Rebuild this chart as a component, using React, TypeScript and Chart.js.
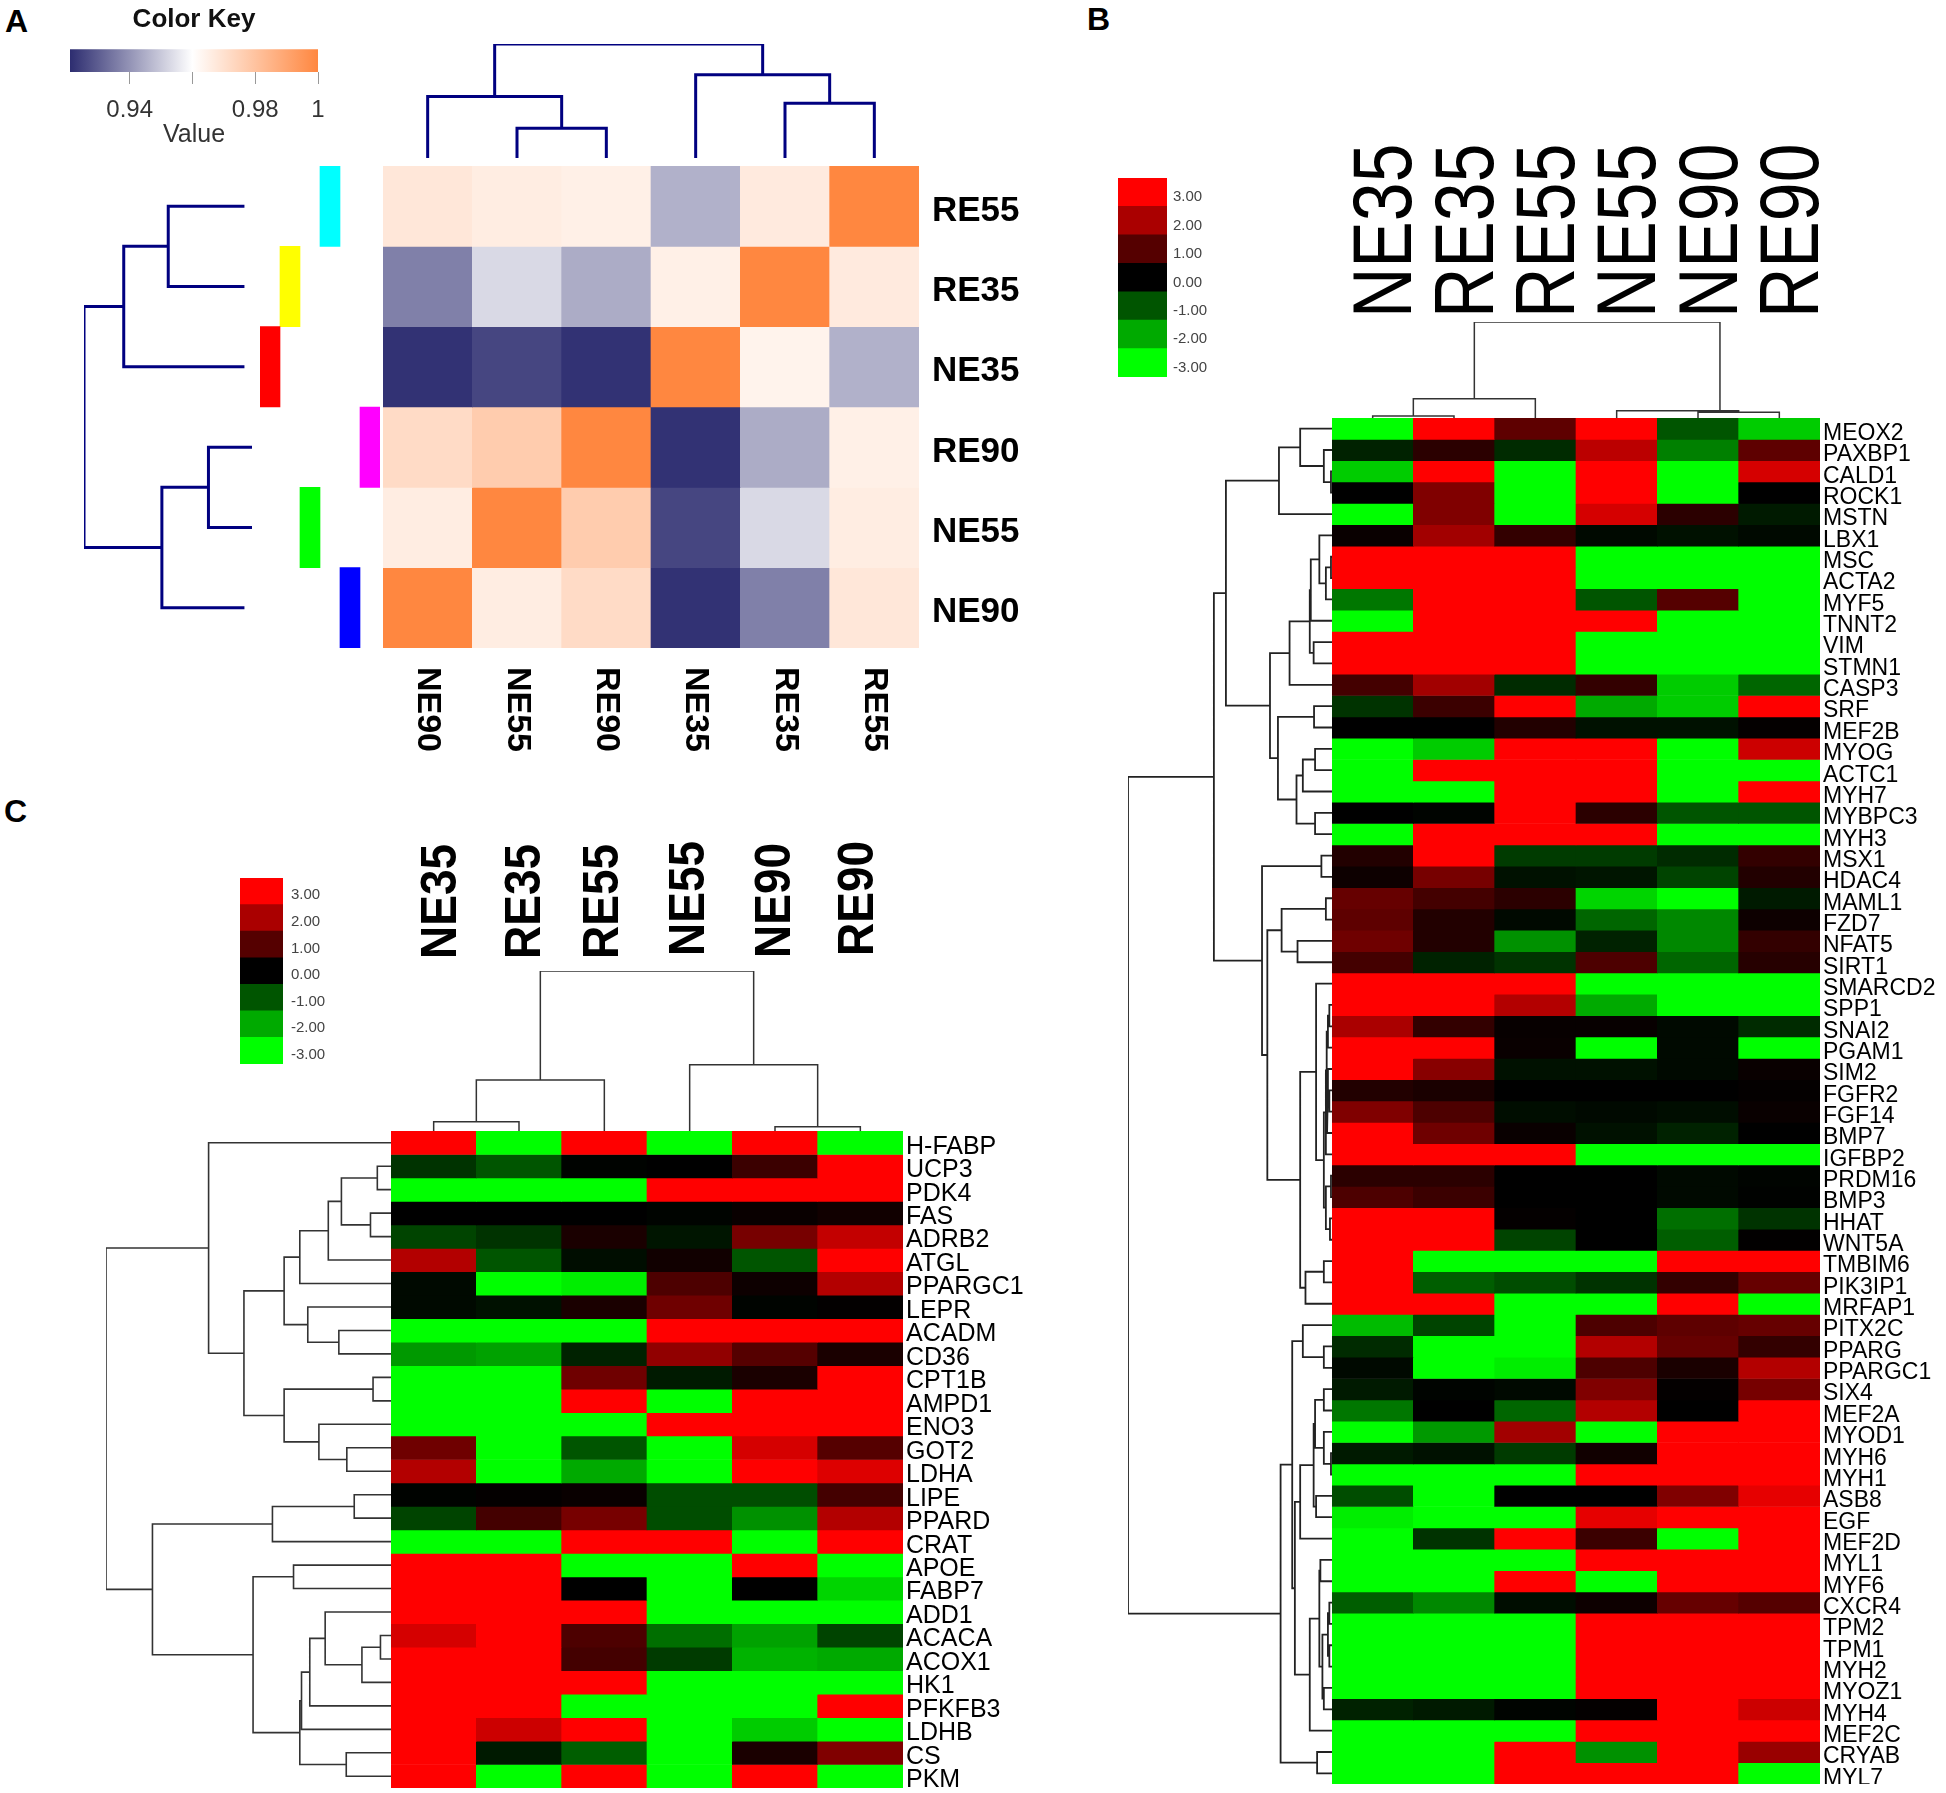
import React, { useEffect, useRef } from "react";
import { Chart, registerables } from "chart.js";

Chart.register(...registerables);

const SANS = '"Liberation Sans", Arial, sans-serif';

/* ---------- Panel A data ---------- */
const aCols = ["NE90", "NE55", "RE90", "NE35", "RE35", "RE55"];
const aRows = ["RE55", "RE35", "NE35", "RE90", "NE55", "NE90"];
const aMatrix = [
  [0.968, 0.966, 0.965, 0.9456, 0.967, 1],
  [0.9365, 0.953, 0.9445, 0.965, 1, 0.967],
  [0.922, 0.9257, 0.922, 1, 0.964, 0.9456],
  [0.972, 0.977, 1, 0.922, 0.9445, 0.965],
  [0.966, 1, 0.977, 0.9257, 0.953, 0.966],
  [1, 0.966, 0.972, 0.922, 0.9365, 0.968],
];
const aSideLanes = [3, 1, 0, 5, 2, 4];
const aSideColors = ["#00ffff", "#ffff00", "#ff0000", "#ff00ff", "#00ff00", "#0000ff"];
const aKeyTicks = [0.94, 0.96, 0.98, 1];
const aKeyMin = 0.921;
const aTopTree = [[0, [1, 2, 0.26], 0.54], [3, [4, 5, 0.48], 0.73], 1];
const aLeftTree = [[[0, 1, 0.47], 2, 0.75], [[3, 4, 0.217], 5, 0.51], 1];
const aLeftLeafEnds = [0, 0, 0, -0.055, -0.055, 0];

/* ---------- Panel B data ---------- */
const bCols = ["NE35", "RE35", "RE55", "NE55", "NE90", "RE90"];
const bGenes = ["MEOX2","PAXBP1","CALD1","ROCK1","MSTN","LBX1","MSC","ACTA2","MYF5","TNNT2","VIM","STMN1","CASP3","SRF","MEF2B","MYOG","ACTC1","MYH7","MYBPC3","MYH3","MSX1","HDAC4","MAML1","FZD7","NFAT5","SIRT1","SMARCD2","SPP1","SNAI2","PGAM1","SIM2","FGFR2","FGF14","BMP7","IGFBP2","PRDM16","BMP3","HHAT","WNT5A","TMBIM6","PIK3IP1","MRFAP1","PITX2C","PPARG","PPARGC1","SIX4","MEF2A","MYOD1","MYH6","MYH1","ASB8","EGF","MEF2D","MYL1","MYF6","CXCR4","TPM2","TPM1","MYH2","MYOZ1","MYH4","MEF2C","CRYAB","MYL7"];
const bValues = [
  [-3, 3, 1.1, 3, -1, -2.4],
  [-0.4, 0.5, -0.5, 2.2, -1.5, 1.1],
  [-2.4, 3, -3, 3, -3, 2.5],
  [0, 1.5, -3, 3, -3, 0],
  [-3, 1.5, -3, 2.5, 0.5, -0.3],
  [0.1, 1.9, 0.6, -0.1, -0.2, -0.1],
  [3, 3, 3, -3, -3, -3],
  [3, 3, 3, -3, -3, -3],
  [-1.4, 3, 3, -1, 1, -3],
  [-3, 3, 3, 3, -3, -3],
  [3, 3, 3, -3, -3, -3],
  [3, 3, 3, -3, -3, -3],
  [0.8, 1.9, -0.5, 0.6, -2.4, -1.2],
  [-0.6, 0.7, 3, -2, -2.4, 3],
  [0, 0, 0.4, -0.2, -0.2, 0.05],
  [-3, -2.4, 3, 3, -3, 2.4],
  [-3, 3, 3, 3, -3, -3],
  [-3, -3, 3, 3, -3, 3],
  [0, -0.05, 3, 0.5, -1, -1],
  [-3, 3, 3, 3, -3, -3],
  [0.4, 3, -0.7, -0.7, -0.5, 0.6],
  [0.15, 1.4, -0.2, -0.25, -0.8, 0.4],
  [1.2, 0.8, 0.5, -2.5, -3, -0.3],
  [1.1, 0.4, -0.1, -1.2, -1.6, 0.15],
  [1.3, 0.4, -1.7, -0.4, -1.6, 0.6],
  [0.8, -0.4, -0.6, 0.9, -1.2, 0.45],
  [3, 3, 3, -3, -3, -3],
  [3, 3, 2.1, -2, -3, -3],
  [2, 0.6, 0.08, 0.08, -0.1, -0.5],
  [3, 3, 0.1, -3, -0.1, -3],
  [3, 1.6, -0.2, -0.2, -0.1, 0.1],
  [0.4, 0.3, 0, 0, 0, 0.05],
  [1.5, 0.9, -0.15, -0.1, -0.15, 0.1],
  [3, 1.3, 0.1, -0.2, -0.4, 0],
  [3, 3, 3, -3, -3, -3],
  [0.5, 0.5, 0, 0, -0.1, -0.05],
  [0.9, 0.7, 0, 0, -0.1, -0.02],
  [3, 3, 0.05, 0, -1.3, -0.6],
  [3, 3, -0.8, 0, -1.1, 0.02],
  [3, -3, -3, -3, 3, 3],
  [3, -1.1, -0.9, -0.6, 0.6, 1.2],
  [3, 3, -3, -3, 3, -3],
  [-2.2, -0.8, -3, 0.9, 1.1, 1.2],
  [-0.5, -3, -3, 2.1, 1.2, 0.6],
  [-0.1, -3, -2.8, 0.9, 0.3, 2.1],
  [-0.3, -0.05, -0.1, 1.5, 0.05, 1.4],
  [-1.4, 0, -1.2, 2.1, 0, 3],
  [-3, -1.8, 1.9, -3, 3, 3],
  [-0.3, -0.2, -0.7, 0.2, 3, 3],
  [-3, -3, -3, 3, 3, 3],
  [-0.9, -3, 0, 0, 1.5, 2.7],
  [-2.8, -3, -3, 2.7, 3, 3],
  [-3, -0.6, 3, 0.7, -3, 3],
  [-3, -3, -3, 3, 3, 3],
  [-3, -3, 3, -3, 3, 3],
  [-1.1, -1.6, -0.15, 0.15, 1.2, 1],
  [-3, -3, -3, 3, 3, 3],
  [-3, -3, -3, 3, 3, 3],
  [-3, -3, -3, 3, 3, 3],
  [-3, -3, -3, 3, 3, 3],
  [-0.4, -0.3, -0.05, 0.05, 3, 2.4],
  [-3, -3, -3, 3, 3, 3],
  [-3, -3, 3, -1.7, 3, 1.8],
  [-3, -3, 3, 3, 3, -3],
];
const bTopTree = [[[0, 1, 0.02], 2, 0.2], [3, [4, 5, 0.06], 0.076, 4.77], 1];
const bG1 = [[0, [1, [2, 3, 0.005], 0.04], 0.156], 4, 0.26];
const bG2 = [[[5, [[6, 7, 0.005], 8, 0.03], 0.062], 9, 0.104], [10, 11, 0.09], 0.109];
const bG4 = [[13, 14, 0.088], [[[15, 16, 0.083], 17, 0.143], [18, 19, 0.083], 0.174], 0.265];
const bG = [bG1, [[bG2, 12, 0.208], bG4, 0.304], 0.52];
const bH2 = [[22, 23, 0.03], [24, 25, 0.169], 0.247];
const bH3 = [[[[27, 28, 0.013], 29, 0.02], [[30, [31, 32, 0.013], 0.02], 33, 0.024], 0.026], 34, 0.03];
const bH4 = [[35, 36, 0.005], [37, 38, 0.01], 0.03];
const bH7 = [[26, [bH3, bH4, 0.04], 0.078], [[39, 40, 0.04], 41, 0.13], 0.156];
const bH = [[20, 21, 0.052], [bH2, bH7, 0.317], 0.343];
const bI1 = [42, [43, 44, 0.04], 0.143];
const bI2 = [[[45, 46, 0.04], [47, [48, 49, 0.005], 0.04], 0.083], [50, 51, 0.078], 0.09];
const bI4a = [[[55, 56, 0.013], [57, 58, 0.013], 0.02], [59, 60, 0.04], 0.047];
const bI4 = [[[53, 54, 0.057], bI4a, 0.062], 61, 0.109];
const bI = [[bI1, [[bI2, 52, 0.156], bI4, 0.182], 0.195], [62, 63, 0.073], 0.252];
const bLeftTree = [[bG, bH, 0.579], bI, 1];

/* ---------- Panel C data ---------- */
const cCols = ["NE35", "RE35", "RE55", "NE55", "NE90", "RE90"];
const cGenes = ["H-FABP","UCP3","PDK4","FAS","ADRB2","ATGL","PPARGC1","LEPR","ACADM","CD36","CPT1B","AMPD1","ENO3","GOT2","LDHA","LIPE","PPARD","CRAT","APOE","FABP7","ADD1","ACACA","ACOX1","HK1","PFKFB3","LDHB","CS","PKM"];
const cValues = [
  [3, -3, 3, -3, 3, -3],
  [-0.6, -1, -0.03, 0, 0.7, 3],
  [-3, -3, -3, 3, 3, 3],
  [0, 0, 0, -0.05, 0.1, 0.2],
  [-0.8, -0.6, 0.3, -0.25, 1.4, 2.3],
  [2.1, -1, -0.15, 0.2, -1, 3],
  [-0.1, -3, -2.8, 0.9, 0.15, 2.1],
  [-0.1, -0.2, 0.3, 1.3, -0.05, 0.03],
  [-3, -3, -3, 3, 3, 3],
  [-1.8, -1.9, -0.4, 1.7, 1, 0.3],
  [-3, -3, 1.3, -0.3, 0.3, 3],
  [-3, -3, 3, -3, 3, 3],
  [-3, -3, -3, 3, 3, 3],
  [1.3, -3, -1, -3, 2.5, 1],
  [2.1, -3, -2, -3, 3, 2.6],
  [-0.03, 0.05, 0.1, -0.9, -0.9, 0.8],
  [-0.8, 0.8, 1.4, -0.9, -1.7, 2.1],
  [-3, -3, 3, 3, -3, 3],
  [3, 3, -3, -3, 3, -3],
  [3, 3, 0, -3, 0, -2.5],
  [3, 3, 3, -3, -3, -3],
  [2.5, 3, 0.9, -1.3, -1.9, -0.8],
  [3, 3, 0.8, -0.7, -2.1, -2],
  [3, 3, 3, -3, -3, -3],
  [3, 3, -3, -3, -3, 3],
  [3, 2.4, 3, -3, -2.4, -3],
  [3, -0.3, -1.1, -3, 0.3, 1.5],
  [3, -3, 3, -3, 3, -3],
];
const cTopTree = [[[0, 1, 0.058], 2, 0.319], [3, [4, 5, 0.027], 0.414], 1];
const cA = [[[[1, 2, 0.048], [3, 4, 0.072], 0.174], 5, 0.22], 6, 0.32];
const cB = [7, [8, 9, 0.183], 0.292];
const cD = [[10, 11, 0.063], [12, [13, 14, 0.155], 0.253], 0.375];
const cF = [0, [[cA, cB, 0.375], cD, 0.516], 0.64];
const cK = [[20, [[21, 22, 0.037], 23, 0.102], 0.231], 24, 0.285];
const cM = [[cK, 25, 0.314], [26, 27, 0.157], 0.32];
const cO = [[[15, 16, 0.129], 17, 0.416], [[18, 19, 0.342], cM, 0.484], 0.837];
const cLeftTree = [cF, cO, 1];

const keyLevels = [3, 2, 1, 0, -1, -2, -3];

/* ---------- colours ---------- */
const NAVY = [45, 45, 112];
const WHITE = [255, 255, 255];
const ORANGE = [255, 135, 64];
const mix = (a: number[], b: number[], t: number) =>
  `rgb(${a.map((v, i) => Math.round(v + (b[i] - v) * t)).join(",")})`;
const colorA = (v: number) =>
  v < 0.96 ? mix(NAVY, WHITE, (v - aKeyMin) / (0.96 - aKeyMin)) : mix(WHITE, ORANGE, (v - 0.96) / 0.04);
const colorRG = (v: number) => {
  const c = Math.round(Math.min(Math.abs(v), 3) * 85);
  return v >= 0 ? `rgb(${c},0,0)` : `rgb(0,${c},0)`;
};

/* ---------- chart builders ---------- */
type Rect = { x: number; y: number; w: number; h: number };
type Box = { rect: Rect; config: any };

const baseOptions = {
  responsive: false,
  animation: false,
  events: [],
  devicePixelRatio: 1,
  layout: { autoPadding: false, padding: 0 },
};
const quiet = { legend: { display: false }, tooltip: { enabled: false }, title: { display: false } };
const noPadding = (s: any) => {
  s.paddingLeft = 0; s.paddingRight = 0; s.paddingTop = 0; s.paddingBottom = 0;
};

/* Column labels of panels B and C: condensed upright text, placed from the x scale's ticks. */
const condensedColumnLabels = {
  id: "condensedColumnLabels",
  afterDatasetsDraw(chart: any, _args: any, o: any) {
    if (!o || !o.size) return;
    const s = chart.scales.x;
    const ctx = chart.ctx;
    ctx.save();
    ctx.font = `${o.weight} ${o.size}px ${SANS}`;
    ctx.fillStyle = "#000";
    ctx.textAlign = "left";
    ctx.textBaseline = "alphabetic";
    s.ticks.forEach((t: any, i: number) => {
      ctx.save();
      ctx.translate(s.getPixelForTick(i) + o.offset + (o.dx ? o.dx[i] : 0), s.bottom - o.pad + (o.dy ? o.dy[i] : 0));
      ctx.rotate(-Math.PI / 2);
      ctx.scale(o.stretch, 1);
      ctx.fillText(t.label, 0, 0.358 * o.size);
      ctx.restore();
    });
    ctx.restore();
  },
};

function heatmap(p: {
  plot: Rect; top: number; right: number; bottom: number;
  cols: string[]; rows: string[]; matrix: number[][]; color: (v: number) => string;
  xPos: "top" | "bottom"; xFont?: any; xPad?: number; condensed?: any;
  yFont: any; yPad: number; yOffset: number;
}): Box {
  const n = p.rows.length;
  const rect = { x: p.plot.x, y: p.plot.y - p.top, w: p.plot.w + p.right, h: p.plot.h + p.top + p.bottom };
  return {
    rect,
    config: {
      type: "bar",
      plugins: p.condensed ? [condensedColumnLabels] : [],
      data: {
        labels: p.cols,
        datasets: p.rows.map((name, r) => ({
          label: name,
          data: p.cols.map(() => [r, r + 1]),
          backgroundColor: p.matrix[r].map(p.color),
          borderWidth: 0,
          grouped: false,
          barPercentage: 1,
          categoryPercentage: 1,
        })),
      },
      options: {
        ...baseOptions,
        plugins: { ...quiet, condensedColumnLabels: p.condensed },
        scales: {
          x: {
            position: p.xPos,
            grid: { display: false, drawTicks: false },
            border: { display: false },
            ticks: p.condensed
              ? { display: false, autoSkip: false }
              : { autoSkip: false, minRotation: -90, maxRotation: -90, padding: p.xPad, font: p.xFont, color: "#000" },
            afterFit: (s: any) => { s.height = p.xPos === "top" ? p.top : p.bottom; noPadding(s); },
          },
          y: {
            type: "linear", min: 0, max: n, reverse: true, position: "right",
            grid: { display: false, drawTicks: false },
            border: { display: false },
            afterBuildTicks: (s: any) => { s.ticks = p.rows.map((_, i) => ({ value: i + 0.5 })); },
            ticks: {
              autoSkip: false, padding: p.yPad, labelOffset: p.yOffset, font: p.yFont, color: "#000",
              callback: (v: number) => p.rows[Math.round(v - 0.5)],
            },
            afterFit: (s: any) => { s.width = p.right; noPadding(s); },
          },
        },
      },
    },
  };
}

function treeSegments(tree: any, orient: "top" | "left", leafEnds?: number[]) {
  const pts: any[] = [];
  const add = (pos: number, h: number) => pts.push(orient === "top" ? { x: pos, y: h } : { x: h, y: pos });
  const walk = (node: any): { pos: number; h: number } => {
    if (typeof node === "number") return { pos: node + 0.5, h: leafEnds ? leafEnds[node] : 0 };
    const [l, r, h, over] = node;
    const a = walk(l);
    const b = walk(r);
    add(a.pos, a.h); add(a.pos, h); add(b.pos, h); add(b.pos, b.h);
    pts.push({ x: NaN, y: NaN });
    return { pos: over ?? (a.pos + b.pos) / 2, h };
  };
  walk(tree);
  return pts;
}

function dendrogram(p: {
  plot: Rect; tree: any; leaves: number; orient: "top" | "left";
  color: string; width: number; leafEnds?: number[]; hMin?: number;
}): Box {
  const pad = 4;
  const hAxis = { type: "linear", min: p.hMin ?? 0, max: 1, display: false };
  const posAxis = { type: "linear", min: 0, max: p.leaves, display: false };
  return {
    rect: { x: p.plot.x - pad, y: p.plot.y - pad, w: p.plot.w + 2 * pad, h: p.plot.h + 2 * pad },
    config: {
      type: "scatter",
      data: {
        datasets: [{
          data: treeSegments(p.tree, p.orient, p.leafEnds),
          showLine: true, spanGaps: false, pointRadius: 0,
          borderColor: p.color, borderWidth: p.width, borderCapStyle: "square", borderJoinStyle: "miter",
        }],
      },
      options: {
        ...baseOptions,
        layout: { autoPadding: false, padding: pad },
        plugins: quiet,
        scales: p.orient === "top"
          ? { x: posAxis, y: hAxis }
          : { x: { ...hAxis, reverse: true }, y: { ...posAxis, reverse: true } },
      },
    },
  };
}

function stepKey(p: { plot: Rect; right: number; pad: number; offset: number; size: number }): Box {
  return {
    rect: { x: p.plot.x, y: p.plot.y, w: p.plot.w + p.right, h: p.plot.h },
    config: {
      type: "bar",
      data: {
        labels: keyLevels.map((v) => v.toFixed(2)),
        datasets: [{
          data: keyLevels.map(() => 1),
          backgroundColor: keyLevels.map(colorRG),
          borderWidth: 0, barPercentage: 1, categoryPercentage: 1,
        }],
      },
      options: {
        ...baseOptions,
        indexAxis: "y",
        plugins: quiet,
        scales: {
          x: { type: "linear", min: 0, max: 1, display: false },
          y: {
            position: "right",
            grid: { display: false, drawTicks: false },
            border: { display: false },
            ticks: {
              autoSkip: false, padding: p.pad, labelOffset: p.offset,
              font: { family: SANS, size: p.size }, color: "#444",
            },
            afterFit: (s: any) => { s.width = p.right; noPadding(s); },
          },
        },
      },
    },
  };
}

const gradientKey: Box = {
  rect: { x: 40, y: 0, w: 310, h: 150 },
  config: {
    type: "bar",
    data: {
      labels: ["Value"],
      datasets: [{
        data: [[aKeyMin, 1]],
        borderWidth: 0, barPercentage: 1, categoryPercentage: 1,
        backgroundColor: (ctx: any) => {
          const area = ctx.chart.chartArea;
          if (!area) return colorA(aKeyMin);
          const g = ctx.chart.ctx.createLinearGradient(area.left, 0, area.right, 0);
          g.addColorStop(0, colorA(aKeyMin));
          g.addColorStop((0.96 - aKeyMin) / (1 - aKeyMin), colorA(0.96));
          g.addColorStop(1, colorA(1));
          return g;
        },
      }],
    },
    options: {
      ...baseOptions,
      layout: { autoPadding: false, padding: { left: 30, right: 32 } },
      indexAxis: "y",
      plugins: {
        legend: { display: false },
        tooltip: { enabled: false },
        title: {
          display: true, text: "Color Key", color: "#111",
          font: { family: SANS, size: 26, weight: "bold" }, padding: { top: 4, bottom: 14 },
        },
      },
      scales: {
        y: { display: false },
        x: {
          type: "linear", min: aKeyMin, max: 1,
          grid: { display: true, drawOnChartArea: false, drawTicks: true, tickLength: 12, color: "#999", lineWidth: 1 },
          border: { display: false },
          afterBuildTicks: (s: any) => { s.ticks = aKeyTicks.map((value) => ({ value })); },
          ticks: {
            autoSkip: false, maxRotation: 0, padding: 12,
            font: { family: SANS, size: 24 }, color: "#333",
            callback: (v: number) => (v === 0.96 ? "" : v === 1 ? "1" : v.toFixed(2)),
          },
          title: { display: true, text: "Value", font: { family: SANS, size: 25 }, color: "#333", padding: 0 },
          afterFit: (s: any) => { s.height = 78; noPadding(s); },
        },
      },
    },
  },
};

const aSideBars: Box = {
  rect: { x: 260, y: 166, w: 120, h: 482 },
  config: {
    type: "bar",
    data: {
      labels: aRows,
      datasets: [{
        data: aSideLanes.map((lane) => [lane, lane + 1]),
        backgroundColor: aSideColors,
        borderWidth: 0, barPercentage: 1, categoryPercentage: 1,
      }],
    },
    options: {
      ...baseOptions,
      indexAxis: "y",
      plugins: quiet,
      scales: {
        x: { type: "linear", min: 0, max: 6, display: false },
        y: { display: false },
      },
    },
  },
};

const boxes: Box[] = [
  gradientKey,
  aSideBars,
  heatmap({
    plot: { x: 383, y: 166, w: 536, h: 482 }, top: 0, right: 120, bottom: 112,
    cols: aCols, rows: aRows, matrix: aMatrix, color: colorA,
    xPos: "bottom", xPad: 104,
    xFont: { family: SANS, size: 34, weight: "bold" },
    yFont: { family: SANS, size: 35, weight: "bold" }, yPad: 13, yOffset: 5,
  }),
  dendrogram({ plot: { x: 383, y: 44, w: 536, h: 114 }, tree: aTopTree, leaves: 6, orient: "top", color: "#000080", width: 3 }),
  dendrogram({
    plot: { x: 84, y: 166, w: 168, h: 482 }, tree: aLeftTree, leaves: 6, orient: "left",
    color: "#000080", width: 3, leafEnds: aLeftLeafEnds, hMin: -0.057,
  }),

  stepKey({ plot: { x: 1118, y: 178, w: 49, h: 199 }, right: 70, pad: 6, offset: 5, size: 15 }),
  heatmap({
    plot: { x: 1332, y: 418, w: 488, h: 1366 }, top: 300, right: 126, bottom: 0,
    cols: bCols, rows: bGenes, matrix: bValues, color: colorRG,
    xPos: "top",
    condensed: { size: 83, weight: "normal", stretch: 0.84, pad: 100, offset: 9 },
    yFont: { family: SANS, size: 23 }, yPad: 3, yOffset: 5,
  }),
  dendrogram({ plot: { x: 1332, y: 322, w: 488, h: 96 }, tree: bTopTree, leaves: 6, orient: "top", color: "#333", width: 1.5 }),
  dendrogram({ plot: { x: 1128, y: 418, w: 204, h: 1366 }, tree: bLeftTree, leaves: 64, orient: "left", color: "#222", width: 1.8 }),

  stepKey({ plot: { x: 240, y: 878, w: 43, h: 186 }, right: 70, pad: 8, offset: 4, size: 15 }),
  heatmap({
    plot: { x: 391, y: 1131, w: 512, h: 657 }, top: 300, right: 150, bottom: 0,
    cols: cCols, rows: cGenes, matrix: cValues, color: colorRG,
    xPos: "top",
    condensed: {
      size: 50, weight: "bold", stretch: 0.92, pad: 172, offset: -2,
      dx: [6, 5, -2, -2, -1, -3], dy: [0, 0, 0, -3, -1, -3],
    },
    yFont: { family: SANS, size: 25 }, yPad: 3, yOffset: 4,
  }),
  dendrogram({ plot: { x: 391, y: 971, w: 512, h: 160 }, tree: cTopTree, leaves: 6, orient: "top", color: "#333", width: 1.5 }),
  dendrogram({ plot: { x: 105.5, y: 1131, w: 285.5, h: 657 }, tree: cLeftTree, leaves: 28, orient: "left", color: "#333", width: 1.6 }),
];

const panelLetters = [
  { text: "A", x: 5, y: 3 },
  { text: "B", x: 1087, y: 1 },
  { text: "C", x: 4, y: 793 },
];

function ChartBox({ box }: { box: Box }) {
  const ref = useRef<HTMLCanvasElement>(null);
  useEffect(() => {
    const chart = new Chart(ref.current as HTMLCanvasElement, box.config);
    return () => chart.destroy();
  }, [box]);
  const { x, y, w, h } = box.rect;
  return (
    <canvas
      ref={ref}
      width={w}
      height={h}
      style={{ position: "absolute", left: x, top: y, width: w, height: h, display: "block" }}
    />
  );
}

export default function App() {
  return (
    <div style={{ position: "absolute", left: 0, top: 0, width: 1946, height: 1793, background: "#fff", overflow: "hidden" }}>
      {boxes.map((box, i) => <ChartBox key={i} box={box} />)}
      {panelLetters.map((l) => (
        <span
          key={l.text}
          style={{ position: "absolute", left: l.x, top: l.y, font: `bold 32px ${SANS}`, color: "#000" }}
        >
          {l.text}
        </span>
      ))}
    </div>
  );
}
